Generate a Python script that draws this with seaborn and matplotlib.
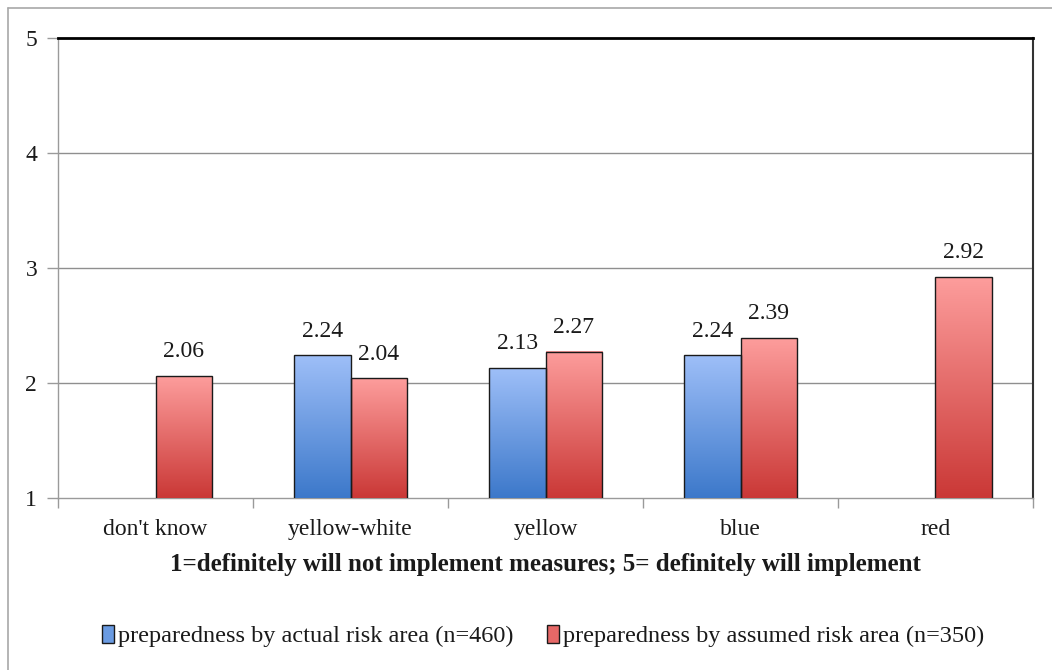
import numpy as np
import pandas as pd
import matplotlib
matplotlib.use("Agg")
import matplotlib.pyplot as plt
import seaborn as sns
from matplotlib.colors import LinearSegmentedColormap
from matplotlib.patches import Patch
from matplotlib.lines import Line2D

# Data
categories = ["don't know", "yellow-white", "yellow", "blue", "red"]
actual = [np.nan, 2.24, 2.13, 2.24, np.nan]
assumed = [2.06, 2.04, 2.27, 2.39, 2.92]
series_names = ["preparedness by actual risk area (n=460)",
                "preparedness by assumed risk area (n=350)"]
y_ticks = [1, 2, 3, 4, 5]
x_title = "1=definitely will not implement measures; 5= definitely will implement"

df = pd.DataFrame({
    "category": categories * 2,
    "series": [series_names[0]] * len(categories) + [series_names[1]] * len(categories),
    "value": actual + assumed,
}).dropna()

# Gradient colours (bottom -> top) per series
grad_colors = {
    series_names[0]: ("#3C78CA", "#9EBFF8"),
    series_names[1]: ("#CA3836", "#FD9D9C"),
}
mid_colors = {series_names[0]: "#6A9BE2", series_names[1]: "#E66867"}

sns.set_theme(style="white")
plt.rcParams["font.family"] = ["Liberation Serif", "DejaVu Serif"]
plt.rcParams["text.color"] = "#1a1a1a"

W, H = 1052, 670
fig = plt.figure(figsize=(W / 100, H / 100), dpi=100)
ax = fig.add_axes([58 / W, 1 - 498 / H, (1033 - 58) / W, 460 / H])

sns.barplot(data=df, x="category", y="value", hue="series",
            order=categories, hue_order=series_names,
            palette=mid_colors, saturation=1, width=0.58,
            edgecolor="#1a1a1a", linewidth=1.0, legend=False, ax=ax, zorder=3)

ymin, ymax = y_ticks[0], y_ticks[-1]

# Vertical gradient fill for each bar
for name, container in zip(series_names, ax.containers):
    cmap = LinearSegmentedColormap.from_list(name, grad_colors[name])
    for bar in container:
        h = bar.get_height()
        if not np.isfinite(h):
            continue
        x0 = bar.get_x()
        y0 = max(bar.get_y(), ymin)
        y1 = bar.get_y() + h
        grad = np.linspace(0, 1, 256).reshape(-1, 1)
        ax.imshow(grad, extent=[x0, x0 + bar.get_width(), y0, y1], origin="lower",
                  aspect="auto", cmap=cmap, zorder=2.9, interpolation="bilinear")
        bar.set_facecolor("none")
    ax.bar_label(container, fmt="%.2f", padding=10, fontsize=17, color="#1a1a1a")

ax.set_xlim(-0.5, len(categories) - 0.5)
ax.set_ylim(ymin, ymax)
ax.set_yticks(y_ticks)
ax.set_xlabel("")
ax.set_ylabel("")

# Grid and spines
for yv in y_ticks[1:-1]:
    ax.axhline(yv, color="#8f8f8f", lw=1.0, zorder=1)
ax.spines["top"].set_color("#000000")
ax.spines["top"].set_linewidth(2.0)
ax.spines["right"].set_color("#333333")
ax.spines["right"].set_linewidth(1.5)
ax.spines["left"].set_color("#9a9a9a")
ax.spines["bottom"].set_color("#9a9a9a")
for s in ("left", "bottom"):
    ax.spines[s].set_linewidth(1.0)

ax.tick_params(axis="y", which="major", length=8, width=1, color="#9a9a9a",
               direction="out", pad=7, labelsize=17, labelcolor="#1a1a1a", left=True)
ax.tick_params(axis="x", which="major", length=0, pad=15, labelsize=17,
               labelcolor="#1a1a1a")
ax.set_xticks(np.arange(-0.5, len(categories), 1.0), minor=True)
ax.tick_params(axis="x", which="minor", length=7, width=1, color="#9a9a9a",
               direction="out", bottom=True)

fig.text(545 / W, 1 - 564 / H, x_title, ha="center", va="center",
         fontsize=18, fontweight="bold", color="#1a1a1a")

handles = [Patch(facecolor=mid_colors[n], edgecolor="#1a1a1a", linewidth=1.0) for n in series_names]
fig.legend(handles, series_names, loc="center", bbox_to_anchor=(543 / W, 1 - 636 / H),
           ncol=2, frameon=False, fontsize=17.5, handlelength=0.5, handleheight=0.75,
           handletextpad=0.15, columnspacing=1.4)

# Outer frame on left and top edges
fig.add_artist(Line2D([8 / W, 8 / W], [0, 1 - 8 / H], transform=fig.transFigure,
                      color="#a8a8a8", lw=1.2))
fig.add_artist(Line2D([8 / W, 1], [1 - 8 / H, 1 - 8 / H], transform=fig.transFigure,
                      color="#a8a8a8", lw=1.2))

fig.savefig("out.png", dpi=100, facecolor="white")
